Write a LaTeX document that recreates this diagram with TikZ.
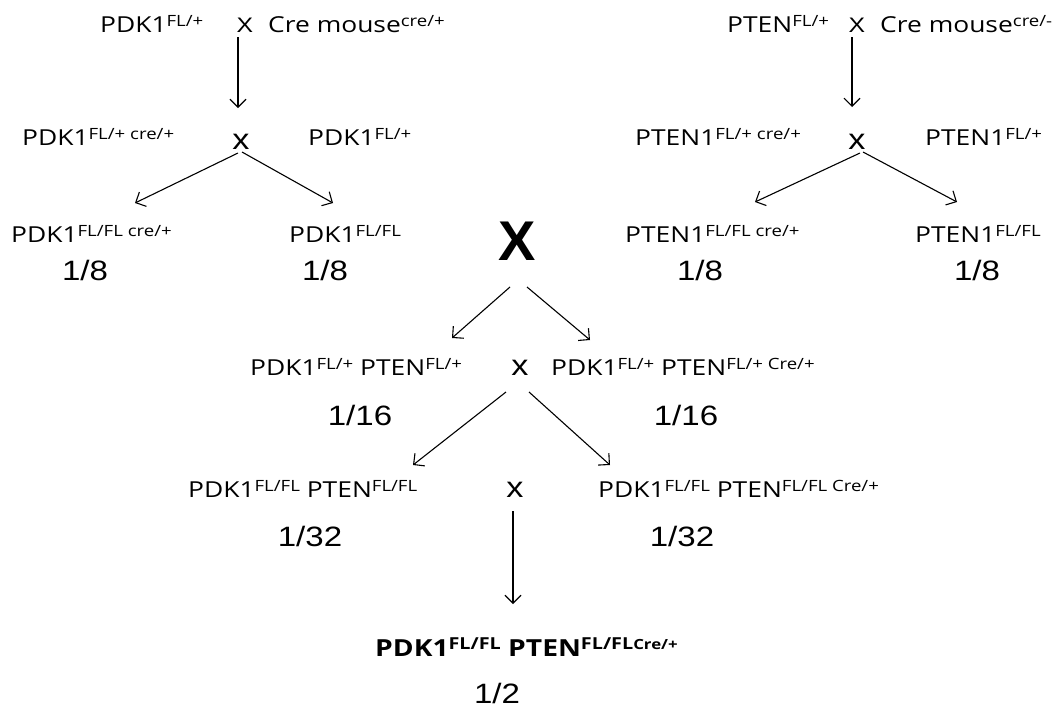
\documentclass[tikz,border=0pt]{standalone}
\usepackage{fontspec}
\setmainfont{Open Sans}[FakeStretch=1.2]
\newfontfamily\numfont{Liberation Sans}[FakeStretch=1.18]
\newfontfamily\bigxfont{Liberation Sans}
\usetikzlibrary{arrows.meta}
% superscript genotype tags
\newcommand\gsup[1]{\raisebox{6pt}{\fontsize{15.5}{15.5}\selectfont #1}}
\newcommand\gsupb[1]{\raisebox{7pt}{\fontsize{16.5}{16.5}\selectfont #1}}
\newcommand\gsubb[1]{\raisebox{7pt}{\fontsize{14}{14}\selectfont #1}}
\tikzset{
  geno/.style={font=\fontsize{22}{22}\selectfont, inner sep=0pt, anchor=base west},
  genob/.style={font=\bfseries\fontsize{23.5}{23.5}\selectfont, inner sep=0pt, anchor=base west},
  frac/.style={font=\numfont\fontsize{28}{28}\selectfont, inner sep=0pt, anchor=base},
  cross/.style={font=\numfont\fontsize{21}{21}\selectfont, inner sep=0pt, anchor=base},
  smallcross/.style={font=\numfont\fontsize{29}{29}\selectfont, inner sep=0pt, anchor=base},
  bigcross/.style={font=\bigxfont\bfseries\fontsize{56}{56}\selectfont, inner sep=0pt, anchor=base},
  arr/.style={-{Straight Barb[length=8pt,width=16pt]}, line width=1.1pt}
}
\begin{document}
\begin{tikzpicture}[x=1pt,y=-1pt]
\useasboundingbox (0,0) rectangle (1057,713);

% ---- PDK1 branch ----
\node[geno] (p0)  at (100,32) {PDK1\gsup{FL/+}};
\node[cross] (xa) at (245,32) {X};
\node[geno] (cr1) at (268,32) {Cre mouse\gsup{cre/+}};
\node[geno] (p1a) at (22,145) {PDK1\gsup{FL/+ cre/+}};
\node[smallcross] (xb) at (241,149) {x};
\node[geno] (p1b) at (308,145) {PDK1\gsup{FL/+}};
\node[geno] (p2a) at (11,242) {PDK1\gsup{FL/FL cre/+}};
\node[geno] (p2b) at (289,242) {PDK1\gsup{FL/FL}};
\node[frac] (f1) at (85,280) {1/8};
\node[frac] (f2) at (325,280) {1/8};

\coordinate (ea) at (238,108);
\coordinate (eb1) at (135,203);
\coordinate (eb2) at (333,203);
\draw[arr] (238,37) coordinate (sa) -- (ea);
\draw[arr] (238,153) coordinate (sb1) -- (eb1);
\draw[arr] (242,152) coordinate (sb2) -- (eb2);

% ---- PTEN branch ----
\node[geno] (t0)  at (727,32) {PTEN\gsup{FL/+}};
\node[cross] (xc) at (857,32) {X};
\node[geno] (cr2) at (880,32) {Cre mouse\gsup{cre/-}};
\node[geno] (t1a) at (635,145) {PTEN1\gsup{FL/+ cre/+}};
\node[smallcross] (xd) at (857,149) {x};
\node[geno] (t1b) at (925,145) {PTEN1\gsup{FL/+}};
\node[geno] (t2a) at (625,242) {PTEN1\gsup{FL/FL cre/+}};
\node[geno] (t2b) at (915,242) {PTEN1\gsup{FL/FL}};
\node[frac] (f3) at (700,280) {1/8};
\node[frac] (f4) at (977,280) {1/8};

\coordinate (ec) at (852,107);
\coordinate (ed1) at (755,202);
\coordinate (ed2) at (957,202);
\draw[arr] (852,37) coordinate (sc) -- (ec);
\draw[arr] (860,153) coordinate (sd1) -- (ed1);
\draw[arr] (863,152) coordinate (sd2) -- (ed2);

% ---- combined cross ----
\node[bigcross] (X) at (517,260) {X};
\coordinate (eX1) at (452,338);
\coordinate (eX2) at (590,340);
\draw[arr] (510,287) coordinate (sX1) -- (eX1);
\draw[arr] (527,287) coordinate (sX2) -- (eX2);

\node[geno] (c1a) at (250,375) {PDK1\gsup{FL/+} PTEN\gsup{FL/+}};
\node[smallcross] (xe) at (520,375) {x};
\node[geno] (c1b) at (551,375) {PDK1\gsup{FL/+} PTEN\gsup{FL/+ Cre/+}};
\node[frac] (f5) at (360,425) {1/16};
\node[frac] (f6) at (686,425) {1/16};

\coordinate (ee1) at (413,465);
\coordinate (ee2) at (610,465);
\draw[arr] (506,392) coordinate (se1) -- (ee1);
\draw[arr] (529,392) coordinate (se2) -- (ee2);

\node[geno] (c2a) at (188,497) {PDK1\gsup{FL/FL} PTEN\gsup{FL/FL}};
\node[smallcross] (xf) at (515,497) {x};
\node[geno] (c2b) at (598,497) {PDK1\gsup{FL/FL} PTEN\gsup{FL/FL Cre/+}};
\node[frac] (f7) at (310,546) {1/32};
\node[frac] (f8) at (682,546) {1/32};

\coordinate (ef) at (513,604);
\draw[arr] (513,511) coordinate (sf) -- (ef);

\node[genob] (res) at (375,656) {PDK1\gsupb{FL/FL} PTEN\gsupb{FL/FL}\gsubb{Cre/+}};
\node[frac] (f9) at (497,703) {1/2};
\end{tikzpicture}
\end{document}
